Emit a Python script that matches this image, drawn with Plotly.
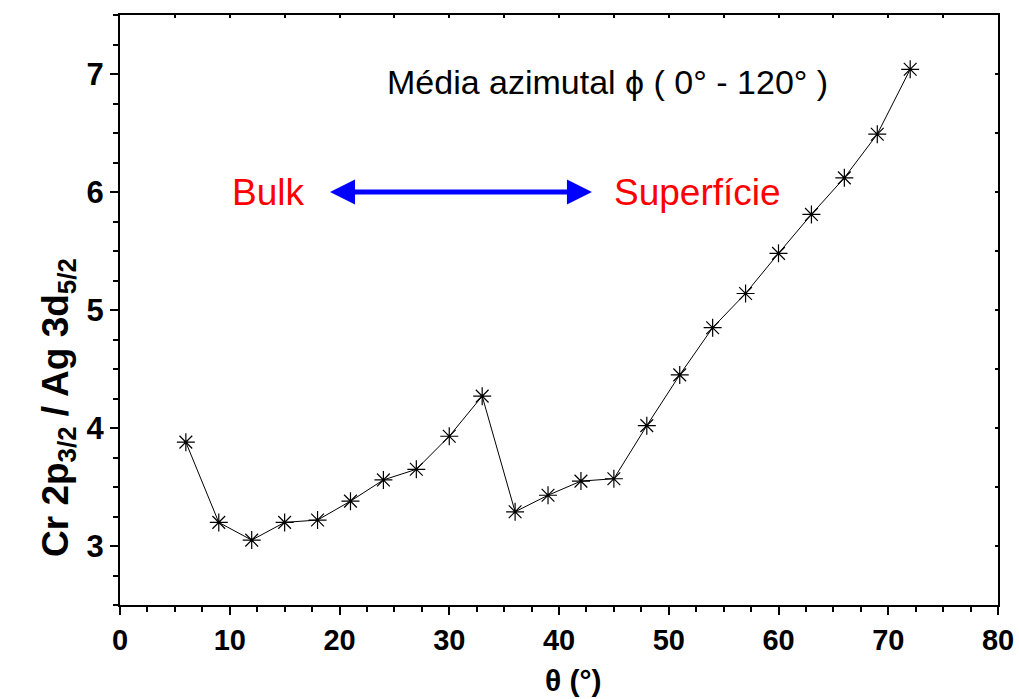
import plotly.graph_objects as go

# Polar emission angle theta (degrees) and Cr 2p3/2 / Ag 3d5/2 intensity ratio
theta = [6, 9, 12, 15, 18, 21, 24, 27, 30, 33, 36, 39, 42, 45, 48, 51, 54, 57, 60, 63, 66, 69, 72]
ratio = [3.88, 3.20, 3.05, 3.20, 3.22, 3.38, 3.56, 3.65, 3.93, 4.27, 3.29, 3.43, 3.55, 3.57,
         4.02, 4.45, 4.85, 5.14, 5.48, 5.81, 6.12, 6.49, 7.04]

x_ticks = [0, 10, 20, 30, 40, 50, 60, 70, 80]
y_ticks = [3, 4, 5, 6, 7]

FONT = "Liberation Sans, Arial"

fig = go.Figure()
fig.add_trace(go.Scatter(
    x=theta, y=ratio, mode="lines+markers",
    line=dict(color="black", width=1),
    marker=dict(symbol="asterisk-open", size=15, color="black",
                line=dict(color="black", width=1.2)),
    showlegend=False,
))

axis_common = dict(showgrid=False, zeroline=False, showline=True, automargin=False,
                   linecolor="black", linewidth=2, ticks="outside",
                   tickwidth=2, ticklen=8, tickcolor="black")

fig.update_layout(
    width=1019, height=699,
    margin=dict(l=120, r=21, t=15, b=94),
    paper_bgcolor="white", plot_bgcolor="white",
    xaxis=dict(range=[0, 80], tickvals=x_ticks, **axis_common,
               minor=dict(dtick=2.5, ticks="outside", ticklen=5, tickwidth=1.5, tickcolor="black"),
               tickfont=dict(family=FONT, size=29, color="black", weight="bold")),
    yaxis=dict(range=[2.5, 7.5], tickvals=y_ticks, **axis_common,
               minor=dict(dtick=0.25, ticks="outside", ticklen=5, tickwidth=1.5, tickcolor="black"),
               tickfont=dict(family=FONT, size=31, color="black", weight="bold")),
    xaxis2=dict(range=[0, 80], overlaying="x", side="top", showgrid=False, zeroline=False,
                automargin=False, showline=True, linecolor="black", linewidth=2,
                ticks="inside", ticklen=3, tickwidth=1.5, tickcolor="black", dtick=5,
                showticklabels=False),
    yaxis2=dict(range=[2.5, 7.5], overlaying="y", side="right", showgrid=False, zeroline=False,
                automargin=False, showline=True, linecolor="black", linewidth=2,
                ticks="inside", ticklen=3, tickwidth=1.5, tickcolor="black", dtick=0.5,
                showticklabels=False),
)

# Invisible trace so the top/right frame axes render
fig.add_trace(go.Scatter(x=[None], y=[None], xaxis="x2", yaxis="y2", showlegend=False,
                         hoverinfo="skip"))

# Axis titles
fig.add_annotation(x=0.517, y=-0.128, xref="paper", yref="paper", yanchor="middle",
                   text="θ (°)", showarrow=False,
                   font=dict(family=FONT, size=30, color="black", weight="bold"))
fig.add_annotation(x=-0.099, y=0.334, xref="paper", yref="paper", textangle=-90,
                   text="Cr 2p<sub>3/2</sub> / Ag 3d<sub>5/2</sub>", showarrow=False,
                   font=dict(family=FONT, size=37, color="black", weight="bold"))

fig.add_annotation(x=44.4, y=6.93, xref="x", yref="y", text="Média azimutal ϕ ( 0° - 120° )",
                   showarrow=False, font=dict(family=FONT, size=34, color="black"))
fig.add_annotation(x=13.5, y=6.0, xref="x", yref="y", text="Bulk",
                   showarrow=False, font=dict(family=FONT, size=37, color="red"))
fig.add_annotation(x=52.6, y=6.0, xref="x", yref="y", text="Superfície",
                   showarrow=False, font=dict(family=FONT, size=37, color="red"))
# Double-headed arrow between the bulk and surface labels
fig.add_annotation(x=43.0, y=6.0, ax=19.0, ay=6.0, xref="x", yref="y", axref="x", ayref="y",
                   text="", showarrow=True, arrowhead=2, startarrowhead=2,
                   arrowside="end+start", arrowwidth=5, arrowsize=1.0,
                   startarrowsize=1.0, arrowcolor="blue", standoff=0, startstandoff=0)

fig.write_html("out.html")
